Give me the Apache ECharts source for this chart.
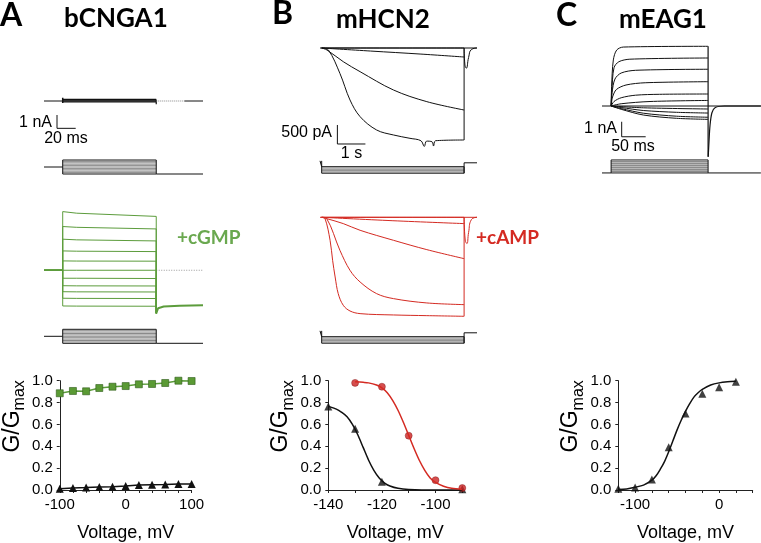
<!DOCTYPE html>
<html>
<head>
<meta charset="utf-8">
<script src="https://cdn.jsdelivr.net/npm/echarts@6/dist/echarts.min.js"></script>
<style>
html, body { margin: 0; padding: 0; background: #fff; }
#main { width: 761px; height: 543px; }
</style>
</head>
<body>
<div id="main"></div>
<script>
// ---------- A: bCNGA1 (time in ms, current in nA, voltage in mV) ----------
var cngOn = 20, cngOff = 120, cngEnd = 170;
var cngLeak = [0.12, 0.06, 0, -0.06];                 // no cGMP, during the steps
var cgmpStart = [4.4, 3.28, 2.33, 1.45, 0.7, 0, -0.6, -1.16, -1.61, -2.1, -2.68];
var cgmpEarly = [4.28, 3.22, 2.28, 1.43, 0.69, 0, -0.6, -1.17, -1.62, -2.11, -2.69]; // at 35 ms
var cgmpEnd = [4.04, 3.1, 2.2, 1.4, 0.68, 0, -0.62, -1.18, -1.63, -2.12, -2.7];
var cgmpTail = [[120, -3.23], [122, -2.85], [128, -2.72], [145, -2.66], [170, -2.62]];
var cngSteps = [100, 80, 60, 40, 20, 0, -20, -40, -60, -80, -100];
var cngHold = 0, cngTailV = -100;

var cngVolt = [-100, -80, -60, -40, -20, 0, 20, 40, 60, 80, 100];
var cngG_cgmp = [0.885, 0.906, 0.903, 0.933, 0.945, 0.951, 0.967, 0.97, 0.979, 1.0, 0.997];
var cngG_ctrl = [0.012, 0.018, 0.022, 0.028, 0.03, 0.036, 0.045, 0.048, 0.05, 0.055, 0.055];

// ---------- B: mHCN2 (time in s, current in pA) ----------
var hcnOn = 0.06, hcnOff = 5.14, hcnEnd = 5.6;
var hcn1 = [[0.06, 0], [5.14, 0]];
var hcn2 = [[0.06, 0], [1.8, -80], [3.6, -160], [5.14, -237]];
var hcn3 = [[0.06, 0], [0.25, -53], [0.83, -360], [1.43, -623], [2.62, -1105], [3.81, -1412], [5.14, -1632]];
var hcn4 = [[0.06, 0], [0.3, -53], [0.71, -667], [1.07, -1368], [1.43, -1807], [2.02, -2158], [2.62, -2289],
            [3.21, -2377], [3.6, -2440], [3.72, -2590], [3.8, -2450], [4.0, -2470], [4.05, -2580], [4.12, -2440], [5.14, -2421]];
var hcnTailDip = [[5.14, 0], [5.17, -450], [5.22, -530], [5.3, -250], [5.4, -40], [5.6, 0]];
var camp1 = [[0.06, 0], [5.14, 0]];
var camp2 = [[0.06, 0], [2.6, -90], [5.14, -166]];
var camp3 = [[0.06, 0], [0.24, -35], [0.83, -166], [1.43, -342], [2.62, -605], [3.81, -851], [5.14, -1088]];
var camp4 = [[0.06, 0], [0.24, -35], [0.71, -868], [1.07, -1395], [1.43, -1702], [2.02, -2009], [2.62, -2140], [3.81, -2254], [5.14, -2298]];
var camp5 = [[0.06, 0], [0.18, -35], [0.36, -605], [0.45, -1132], [0.54, -1570], [0.65, -2009], [0.83, -2316],
             [1.07, -2465], [1.43, -2535], [2.62, -2570], [3.81, -2588], [5.14, -2605]];
var campTailDip = [[5.14, 0], [5.18, -600], [5.24, -690], [5.3, -400], [5.4, -60], [5.6, 0]];
var hcnSteps = [-90, -100, -110, -120, -130, -140];
var hcnHold = -45, hcnTailV = -60;

var hcnVoltCtrl = [-140, -130, -120, -90];
var hcnGCtrl = [0.765, 0.56, 0.076, 0.006];
var hcnVoltCamp = [-130, -120, -110, -100, -90];
var hcnGCamp = [0.98, 0.945, 0.497, 0.09, 0.018];
var hcnFitCtrlV = [-140, -137, -135, -133, -131, -129, -127, -125, -123, -121, -119, -117, -114, -110, -100, -90];
var hcnFitCtrlG = [0.765, 0.74, 0.71, 0.67, 0.6, 0.505, 0.39, 0.275, 0.18, 0.11, 0.063, 0.036, 0.015, 0.005, 0, 0];
var hcnFitCampV = [-130, -127, -125, -122, -120, -118, -116, -114, -112, -110, -108, -106, -104, -102, -100, -97, -94, -90];
var hcnFitCampG = [0.99, 0.985, 0.98, 0.96, 0.935, 0.89, 0.82, 0.73, 0.62, 0.5, 0.38, 0.27, 0.18, 0.11, 0.07, 0.035, 0.015, 0.005];

// ---------- C: mEAG1 (time in ms, current in nA) ----------
var eagOn = 19, eagOff = 221, eagEnd = 331;
var eagRise = [
  [[19, 0], [20, 1.3], [23.6, 3.07], [30.6, 3.73], [44.4, 3.93], [221, 3.98]],
  [[19, 0], [20.5, 1.0], [25, 2.55], [35, 2.95], [58, 3.12], [221, 3.2]],
  [[19, 0], [21, 0.9], [27, 1.8], [40, 2.2], [70, 2.38], [221, 2.45]],
  [[19, 0], [22, 0.6], [30, 1.1], [50, 1.4], [90, 1.55], [221, 1.62]],
  [[19, 0], [25, 0.3], [40, 0.55], [70, 0.72], [120, 0.78], [221, 0.8]],
  [[19, 0], [40, 0.15], [100, 0.3], [221, 0.37]],
  [[19, 0], [86, -0.12], [221, -0.2]],
  [[19, 0], [40, -0.1], [86, -0.3], [155, -0.42], [221, -0.47]],
  [[19, 0], [40, -0.17], [86, -0.48], [155, -0.68], [221, -0.75]],
  [[19, 0], [40, -0.22], [86, -0.6], [155, -0.82], [221, -0.89]]
];
var eagTail = [[221.3, -3.38], [222.5, -2.6], [225, -1.3], [229, -0.45], [236, -0.1], [255, 0], [331, 0]];
var eagSteps = [20, 0, -20, -40, -60, -80, -100, -120];
var eagHold = -120;

var eagVolt = [-120, -100, -80, -60, -40, -20, 0, 20];
var eagG = [0.012, 0.024, 0.097, 0.39, 0.70, 0.88, 0.94, 0.99];
var eagFitV = [-120, -110, -100, -90, -80, -75, -70, -65, -60, -55, -50, -45, -40, -35, -30, -25, -20, -10, 0, 10, 20];
var eagFitG = [0.005, 0.01, 0.025, 0.045, 0.09, 0.13, 0.19, 0.26, 0.35, 0.45, 0.55, 0.64, 0.72, 0.79, 0.85, 0.89, 0.92, 0.96, 0.98, 0.99, 0.995];

// scale bars
var scaleA = { nA: 1, ms: 20 };
var scaleB = { pA: 500, s: 1 };
var scaleC = { nA: 1, ms: 50 };

// ---------- helpers ----------
var BLACK = '#111', GREEN = '#5c9c3c', RED = '#d42a22', GRAY = '#8a8a8a';
var FONT = "Arial, 'Liberation Sans', sans-serif";

var grids = [], xAxes = [], yAxes = [], series = [];

function addGrid(l, t, w, h, xr, yr) {
  var i = grids.length;
  grids.push({ left: l, top: t, width: w, height: h });
  xAxes.push({ type: 'value', gridIndex: i, min: xr[0], max: xr[1], show: false });
  yAxes.push({ type: 'value', gridIndex: i, min: yr[0], max: yr[1], show: false });
  return i;
}

function line(gi, data, color, width, extra) {
  var s = {
    type: 'line', xAxisIndex: gi, yAxisIndex: gi, data: data,
    symbol: 'none', clip: false, silent: true, animation: false,
    lineStyle: { color: color, width: width }
  };
  return Object.assign(s, extra || {});
}

function zip(xs, ys) {
  return xs.map(function (x, k) { return [x, ys[k]]; });
}

function protocol(gi, steps, hold, tailV, on, off, end, fill, fillWidth) {
  var hi = steps[0], lo = steps[steps.length - 1];
  for (var k = 1; k < steps.length - 1; k++) {
    series.push(line(gi, [[on, steps[k]], [off, steps[k]]], fill, fillWidth));
  }
  series.push(line(gi, [[0, hold], [on, hold], [on, hi], [off, hi], [off, lo], [on, lo], [on, hold]], BLACK, 1));
  series.push(line(gi, [[off, lo], [off, tailV], [end, tailV]], BLACK, 1));
}

function scaleBar(gi, x0, y0, dx, dy) {
  series.push(line(gi, [[x0, y0 + dy], [x0, y0], [x0 + dx, y0]], BLACK, 1));
}

function gvGrid(l, w, xmin, xmax, step, labelEvery, gap) {
  var i = grids.length;
  grids.push({ left: l, top: 380.7, width: w, height: 110 });
  xAxes.push({
    type: 'value', gridIndex: i, min: xmin, max: xmax, interval: step,
    name: 'Voltage, mV', nameLocation: 'middle', nameGap: 34,
    nameTextStyle: { fontFamily: FONT, fontSize: 18, color: '#000' },
    axisLine: { onZero: false, lineStyle: { color: '#222', width: 1 } },
    axisTick: { length: 3, lineStyle: { color: '#222' } },
    splitLine: { show: false },
    axisLabel: {
      fontFamily: FONT, fontSize: 15, color: '#000', margin: 7,
      formatter: function (v) { return v % labelEvery === 0 ? String(v) : ''; }
    }
  });
  yAxes.push({
    type: 'value', gridIndex: i, min: 0, max: 1, interval: 0.2,
    name: '{g|G/G}{s|max}', nameLocation: 'middle', nameGap: gap,
    nameTextStyle: {
      color: '#000', fontFamily: FONT, padding: [0, 0, 0, 38],
      rich: {
        g: { fontSize: 23, fontFamily: FONT, lineHeight: 24, verticalAlign: 'top' },
        s: { fontSize: 16, fontFamily: FONT, lineHeight: 16, verticalAlign: 'top', padding: [11, 0, 0, 0] }
      }
    },
    axisLine: { show: true, onZero: false, lineStyle: { color: '#222', width: 1 } },
    axisTick: { show: true, length: 3, lineStyle: { color: '#222' } },
    splitLine: { show: false },
    axisLabel: {
      fontFamily: FONT, fontSize: 15, color: '#000', margin: 7,
      formatter: function (v) { return v.toFixed(1); }
    }
  });
  return i;
}

// ---------- A ----------
var gA1 = addGrid(44, 61, 159, 80, [0, cngEnd], [-3, 3]);
series.push(line(gA1, [[0, 0], [cngOn, 0]], BLACK, 1));
cngLeak.forEach(function (v) {
  series.push(line(gA1, [[cngOn, v], [cngOff, v]], BLACK, 1.2));
});
series.push(line(gA1, [[cngOn, 0.25], [cngOn, -0.15]], BLACK, 1.5));
series.push(line(gA1, [[cngOff, 0.1], [cngOff, -0.25]], BLACK, 1.2));
series.push(line(gA1, [[cngOff, 0], [150, 0]], '#888', 1, { lineStyle: { color: '#888', width: 1, type: [1, 1] } }));
series.push(line(gA1, [[150, 0], [cngEnd, 0]], BLACK, 1));
scaleBar(gA1, 13.9, -2.05, scaleA.ms, scaleA.nA);

var gA1p = addGrid(44, 153, 159, 28, [0, cngEnd], [-200, 200]);
protocol(gA1p, cngSteps, cngHold, cngTailV, cngOn, cngOff, cngEnd, GRAY, 1);

var gA2 = addGrid(44, 203.6, 159, 133.3, [0, cngEnd], [-5, 5]);
series.push(line(gA2, [[cngOff, 0], [cngEnd, 0]], '#999', 1, { lineStyle: { color: '#999', width: 1, type: [1, 1.5] } }));
cgmpStart.forEach(function (s, k) {
  series.push(line(gA2, [[0, 0], [cngOn, 0], [cngOn, s], [35, cgmpEarly[k]], [cngOff, cgmpEnd[k]], [cngOff, cgmpTail[0][1]]], GREEN, 1));
});
series.push(line(gA2, cgmpTail, GREEN, 2));

var gA2p = addGrid(44, 322.3, 159, 28, [0, cngEnd], [-200, 200]);
protocol(gA2p, cngSteps, cngHold, cngTailV, cngOn, cngOff, cngEnd, GRAY, 1);

var gAgv = gvGrid(58.3, 133.3, -100, 100, 20, 100, 30);
series.push(line(gAgv, zip(cngVolt, cngG_ctrl), BLACK, 1.5, { symbol: 'triangle', symbolSize: 8, itemStyle: { color: BLACK } }));
series.push(line(gAgv, zip(cngVolt, cngG_cgmp), GREEN, 1.5, { symbol: 'rect', symbolSize: 7, itemStyle: { color: '#5a9a34', borderColor: '#2d5a1a', borderWidth: 0.6 } }));

// ---------- B ----------
function hcnPanel(gi, traces, dip, color) {
  series.push(line(gi, [[0, 0], [hcnEnd, 0]], color, 1));
  var deepest = 0;
  traces.forEach(function (tr) {
    series.push(line(gi, tr, color, 1, { smooth: 0.35 }));
    deepest = Math.min(deepest, tr[tr.length - 1][1]);
  });
  series.push(line(gi, [[hcnOff, deepest], [hcnOff, 0]], color, 1));
  series.push(line(gi, dip, color, 1, { smooth: 0.5 }));
}
var gB1 = addGrid(320, 29, 157, 133, [0, hcnEnd], [-3000, 500]);
hcnPanel(gB1, [hcn1, hcn2, hcn3, hcn4], hcnTailDip, BLACK);
scaleBar(gB1, 0.62, -2526, scaleB.s, scaleB.pA);

var gB1p = addGrid(320, 157.6, 157, 18.2, [0, hcnEnd], [-160, -20]);
protocol(gB1p, hcnSteps, hcnHold, hcnTailV, hcnOn, hcnOff, hcnEnd, GRAY, 1);

var gB2 = addGrid(320, 198.3, 157, 133, [0, hcnEnd], [-3000, 500]);
hcnPanel(gB2, [camp1, camp2, camp3, camp4, camp5], campTailDip, RED);

var gB2p = addGrid(320, 327.6, 157, 18.2, [0, hcnEnd], [-160, -20]);
protocol(gB2p, hcnSteps, hcnHold, hcnTailV, hcnOn, hcnOff, hcnEnd, GRAY, 1);

var gBgv = gvGrid(328.3, 134, -140, -90, 10, 20, 30);
series.push(line(gBgv, zip(hcnFitCtrlV, hcnFitCtrlG), BLACK, 1.5, { smooth: 0.3 }));
series.push(line(gBgv, zip(hcnFitCampV, hcnFitCampG), RED, 1.5, { smooth: 0.3 }));
series.push({ type: 'scatter', xAxisIndex: gBgv, yAxisIndex: gBgv, data: zip(hcnVoltCtrl, hcnGCtrl), symbol: 'triangle', symbolSize: 8, itemStyle: { color: BLACK }, clip: false, silent: true });
series.push({ type: 'scatter', xAxisIndex: gBgv, yAxisIndex: gBgv, data: zip(hcnVoltCamp, hcnGCamp), symbol: 'circle', symbolSize: 7, itemStyle: { color: '#cc2222', borderColor: '#7a1010', borderWidth: 0.5 }, clip: false, silent: true });

// ---------- C ----------
var gC1 = addGrid(602, 31, 158.9, 135, [0, eagEnd], [-4, 5]);
series.push(line(gC1, [[0, 0], [eagEnd, 0]], BLACK, 1));
eagRise.forEach(function (tr) {
  series.push(line(gC1, tr, BLACK, 1, { smooth: 0.3 }));
});
series.push(line(gC1, [[eagOff, eagRise[0][eagRise[0].length - 1][1]], [eagOff, eagTail[0][1]]], BLACK, 1.2));
series.push(line(gC1, eagTail, BLACK, 1.2, { smooth: 0.3 }));
scaleBar(gC1, 41, -2.05, scaleC.ms, scaleC.nA);

var gC1p = addGrid(602, 158.1, 158.9, 16.7, [0, eagEnd], [-140, 40]);
protocol(gC1p, eagSteps, eagHold, eagHold, eagOn, eagOff, eagEnd, '#8c8c8c', 1.6);

var gCgv = gvGrid(618.3, 134.4, -120, 40, 20, 100, 30);
series.push(line(gCgv, zip(eagFitV, eagFitG), BLACK, 1.5, { smooth: 0.3 }));
series.push({ type: 'scatter', xAxisIndex: gCgv, yAxisIndex: gCgv, data: zip(eagVolt, eagG), symbol: 'triangle', symbolSize: 8, itemStyle: { color: BLACK }, clip: false, silent: true });

// ---------- text ----------
function txt(x, y, s, font, color, align) {
  return { type: 'text', x: x, y: y, silent: true,
    style: { text: s, font: font, fill: color || '#000', align: align || 'left', verticalAlign: 'middle' } };
}
var BOLD = 'bold 32px Lato, sans-serif';
var NAME = 'bold 26px Lato, sans-serif';
var SMALL = '16px ' + FONT;
var graphics = [
  txt(0, 16, 'A', BOLD), txt(64, 19, 'bCNGA1', NAME),
  txt(272, 14, 'B', BOLD), txt(336, 20, 'mHCN2', NAME),
  txt(556, 16, 'C', BOLD), txt(619, 20, 'mEAG1', NAME),
  txt(177, 238, '+cGMP', 'bold 19px Lato, sans-serif', '#6aa84f'),
  txt(476, 238, '+cAMP', 'bold 19px Lato, sans-serif', RED),
  txt(52, 122.5, '1 nA', SMALL, '#000', 'right'),
  txt(66, 139, '20 ms', SMALL, '#000', 'center'),
  txt(332, 132.5, '500 pA', SMALL, '#000', 'right'),
  txt(351.5, 153.5, '1 s', SMALL, '#000', 'center'),
  txt(617, 129, '1 nA', SMALL, '#000', 'right'),
  txt(633, 147, '50 ms', SMALL, '#000', 'center')
];

var chart = echarts.init(document.getElementById('main'));
chart.setOption({
  backgroundColor: '#fff',
  animation: false,
  grid: grids,
  xAxis: xAxes,
  yAxis: yAxes,
  series: series,
  graphic: graphics
});
</script>
</body>
</html>
